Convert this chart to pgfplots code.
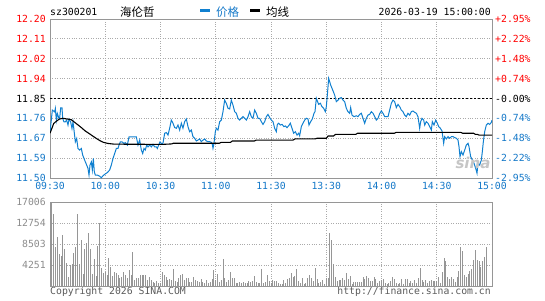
\documentclass[border=0pt]{standalone}
\usepackage{pgfplots}
\pgfplotsset{compat=1.18}
\usepackage{fontspec}
\setmainfont{DejaVu Sans}
\setmonofont{DejaVu Sans Mono}
\newfontfamily\cjk{Noto Sans CJK SC}
\definecolor{redlab}{RGB}{255,0,0}
\definecolor{bluelab}{RGB}{20,120,200}
\definecolor{priceblue}{RGB}{16,128,208}
\definecolor{gridc}{RGB}{170,170,170}
\definecolor{framec}{RGB}{150,150,150}
\definecolor{volc}{RGB}{150,150,150}
\definecolor{vollab}{RGB}{140,140,140}
\definecolor{copyc}{RGB}{90,90,90}
\newcommand\mono{\fontsize{9.8}{10}\selectfont\ttfamily}
\begin{document}
\begin{tikzpicture}
\useasboundingbox (0pt,0pt) rectangle (545pt,300pt);
% header
\node[anchor=west,inner sep=0pt] at (50pt,288pt) {\mono sz300201};
\node[anchor=west,inner sep=0pt] at (120pt,288pt) {\cjk\fontsize{11.5}{12}\selectfont 海伦哲};
\draw[priceblue,line width=3pt] (200pt,289.5pt) -- (209.5pt,289.5pt);
\node[anchor=west,inner sep=0pt,text=bluelab] at (216pt,288pt) {\cjk\fontsize{11.5}{12}\selectfont 价格};
\draw[black,line width=3pt] (250pt,289.5pt) -- (260pt,289.5pt);
\node[anchor=west,inner sep=0pt] at (266pt,288pt) {\cjk\fontsize{11.5}{12}\selectfont 均线};
\node[anchor=east,inner sep=0pt] at (491pt,288pt) {\mono 2026-03-19 15:00:00};
% right percentage labels
\node[anchor=west,inner sep=0pt,text=bluelab] at (495pt,122pt) {\mono -2.95\%};
\node[anchor=west,inner sep=0pt,text=bluelab] at (495pt,141.875pt) {\mono -2.22\%};
\node[anchor=west,inner sep=0pt,text=bluelab] at (495pt,161.75pt) {\mono -1.48\%};
\node[anchor=west,inner sep=0pt,text=bluelab] at (495pt,181.625pt) {\mono -0.74\%};
\node[anchor=west,inner sep=0pt,text=black] at (495pt,201.5pt) {\mono -0.00\%};
\node[anchor=west,inner sep=0pt,text=redlab] at (495pt,221.375pt) {\mono +0.74\%};
\node[anchor=west,inner sep=0pt,text=redlab] at (495pt,241.25pt) {\mono +1.48\%};
\node[anchor=west,inner sep=0pt,text=redlab] at (495pt,261.125pt) {\mono +2.22\%};
\node[anchor=west,inner sep=0pt,text=redlab] at (495pt,281pt) {\mono +2.95\%};
% footer
\node[anchor=west,inner sep=0pt,text=copyc] at (50pt,8pt) {\mono Copyright 2026 SINA.COM};
\node[anchor=east,inner sep=0pt,text=copyc] at (491pt,8pt) {\mono http://finance.sina.com.cn};

\begin{axis}[
  at={(50pt,122pt)}, anchor=south west, scale only axis,
  width=442pt, height=159pt,
  xmin=0, xmax=240, ymin=11.5, ymax=12.2,
  xtick={0,30,...,240},
  xticklabels={09:30,10:00,10:30,11:00,11:30,13:30,14:00,14:30,15:00},
  ytick={11.5,11.5875,11.675,11.7625,11.85,11.9375,12.025,12.1125,12.2},
  yticklabels={\textcolor{bluelab}{11.50},\textcolor{bluelab}{11.59},\textcolor{bluelab}{11.67},\textcolor{bluelab}{11.76},\textcolor{black}{11.85},\textcolor{redlab}{11.94},\textcolor{redlab}{12.02},\textcolor{redlab}{12.11},\textcolor{redlab}{12.20}},
  major tick length=0pt,
  grid=major, major grid style={gridc, dotted, line width=0.8pt},
  axis line style={framec, line width=0.9pt},
  tick label style={font=\mono},
  xticklabel style={text=bluelab, inner sep=0pt, anchor=north, yshift=-4pt},
  yticklabel style={inner sep=0pt, anchor=east, xshift=-4pt},
]
\addplot[black, dash pattern=on 2pt off 2pt, line width=0.9pt] coordinates {(0,11.85) (240,11.85)};
\addplot[priceblue, line width=1pt] coordinates {
(0,11.70) (1.27,11.799) (2.53,11.791) (2.9,11.806) (3.44,11.755) (3.98,11.784) (4.89,11.762) (5.25,11.762) (5.79,11.809) (6.52,11.809) (6.88,11.762) (7.6,11.747) (8.33,11.747) (9.05,11.755) (9.77,11.733) (10.32,11.759) (11.22,11.747) (11.94,11.718) (12.49,11.747) (13.03,11.711) (13.76,11.659) (14.48,11.674) (15.2,11.630) (16.11,11.623) (17.01,11.630) (17.74,11.601) (18.46,11.586) (19.19,11.571) (19.91,11.557) (20.63,11.542) (21.18,11.513) (21.72,11.557) (22.44,11.571) (22.99,11.535) (23.53,11.586) (24.07,11.527) (24.61,11.513) (25.7,11.513) (26.97,11.508) (27.87,11.501) (28.78,11.510) (29.68,11.516) (31.13,11.524) (32.4,11.535) (33.3,11.557) (34.21,11.586) (35.11,11.608) (36.02,11.630) (36.92,11.630) (37.46,11.645) (38.19,11.659) (39.09,11.659) (40.18,11.652) (40.9,11.656) (41.99,11.645) (42.89,11.681) (44.16,11.681) (45.61,11.681) (46.88,11.681) (47.78,11.645) (48.69,11.667) (49.59,11.623) (50.32,11.608) (51.04,11.630) (51.76,11.623) (52.49,11.645) (53.21,11.637) (54.12,11.645) (55.02,11.637) (55.93,11.648) (56.83,11.637) (57.73,11.637) (58.28,11.630) (59.0,11.645) (59.73,11.659) (60.45,11.652)
(61.35,11.653) (62.26,11.697) (63.16,11.700) (64.07,11.689) (64.97,11.719) (65.88,11.755) (66.78,11.741) (67.69,11.722) (68.6,11.719) (69.5,11.733) (70.4,11.711) (71.31,11.741) (72.2,11.719) (73.12,11.748) (74.02,11.760) (74.93,11.726) (75.83,11.704) (76.74,11.711) (77.64,11.682) (78.55,11.675) (79.45,11.663) (80.36,11.667) (81.26,11.672) (82.17,11.660) (83.07,11.667) (83.98,11.672) (84.88,11.663) (85.79,11.660) (86.69,11.660) (87.6,11.657) (88.14,11.648) (88.5,11.631) (89.05,11.653) (89.77,11.704) (90.31,11.719) (91.22,11.711) (92.12,11.748) (93.03,11.755) (93.93,11.792) (94.84,11.843) (95.74,11.829) (96.65,11.807) (97.55,11.804) (98.46,11.843) (99.36,11.821) (100.27,11.792) (101.17,11.785) (102.08,11.763) (102.98,11.755) (103.89,11.763) (104.79,11.770) (105.7,11.763) (106.6,11.755) (107.51,11.770) (108.41,11.792) (109.32,11.770) (110.22,11.763) (111.13,11.799) (112.03,11.785) (112.94,11.763) (113.84,11.763) (114.75,11.748) (115.65,11.736) (116.56,11.748) (117.46,11.770) (118.37,11.780)
(119.27,11.766) (120.18,11.755) (121.08,11.748) (121.99,11.719) (122.89,11.704) (123.44,11.736) (124.16,11.741) (125.07,11.733) (125.97,11.736) (127.06,11.726) (127.78,11.729) (128.69,11.722) (129.59,11.730) (130.5,11.741) (131.4,11.719) (132.3,11.697) (133.21,11.704) (134.12,11.689) (135.02,11.697) (135.56,11.686) (136.47,11.726) (137.37,11.741) (138.28,11.755) (139.18,11.763) (140.09,11.760) (140.63,11.733) (141.54,11.748) (142.44,11.760) (143.35,11.785) (143.89,11.792) (144.61,11.851) (145.16,11.839) (145.88,11.824) (146.79,11.829) (147.69,11.814) (148.6,11.807) (149.5,11.792) (150.04,11.814) (150.59,11.865) (151.31,11.939) (151.86,11.924) (152.4,11.909) (153.12,11.895) (153.85,11.880) (154.57,11.865) (155.47,11.836) (156.38,11.843) (157.28,11.851) (158.19,11.854) (159.09,11.843) (160.0,11.836) (160.9,11.807) (161.81,11.792) (162.71,11.785) (163.26,11.810) (163.98,11.777) (165.07,11.770) (166.33,11.774) (167.24,11.770) (168.14,11.780) (169.05,11.785) (169.95,11.763) (170.86,11.741) (171.76,11.763) (172.67,11.777) (173.57,11.780) (174.48,11.792) (175.38,11.785) (176.29,11.770) (177.19,11.755) (178.1,11.763) (179.0,11.783)
(179.91,11.795) (180.81,11.785) (181.72,11.770) (182.62,11.770) (183.53,11.770) (184.43,11.799) (185.34,11.829) (186.24,11.843) (187.15,11.836) (188.05,11.810) (188.96,11.824) (189.86,11.814) (190.77,11.799) (191.67,11.792) (192.58,11.777) (193.48,11.770) (194.39,11.785) (195.29,11.777) (196.2,11.792) (197.1,11.795) (198.01,11.789) (198.91,11.785) (199.82,11.770) (200.72,11.719) (201.27,11.748) (201.99,11.763) (202.9,11.755) (203.44,11.733) (204.34,11.748) (205.25,11.741) (206.15,11.726) (207.06,11.711) (207.6,11.748) (208.51,11.733) (209.41,11.755) (210.32,11.741) (211.04,11.726) (211.95,11.719) (212.85,11.707) (213.76,11.653) (214.3,11.682) (215.2,11.672) (216.11,11.682) (217.01,11.675) (217.92,11.682) (218.82,11.682) (219.73,11.678) (220.63,11.675) (221.54,11.667) (222.08,11.638) (222.62,11.594) (223.35,11.616) (224.25,11.601) (225.16,11.623) (226.06,11.645) (226.97,11.653) (227.51,11.638) (228.42,11.594) (229.32,11.579) (230.23,11.565) (231.13,11.543) (231.86,11.521) (232.4,11.565) (233.3,11.557) (234.21,11.579) (234.75,11.616) (235.3,11.660) (236.02,11.704) (236.92,11.733) (237.83,11.741) (238.73,11.736) (239.64,11.745) (240,11.755)
};
\addplot[black, line width=1.1pt] coordinates {
(0,11.697) (1,11.718) (2,11.740) (3.5,11.750) (5,11.759) (7,11.763) (9,11.760) (11.5,11.757) (13.4,11.745) (15,11.735) (17,11.722) (19,11.708) (21,11.697) (23,11.686) (25,11.675) (27,11.665) (29,11.657) (31.5,11.652) (35,11.649) (61,11.648) (66,11.650) (67,11.653) (92,11.653) (93,11.657) (98,11.657) (99,11.663) (111,11.663) (112,11.667) (132,11.667) (133,11.672) (144,11.672) (145,11.675) (150,11.675) (151,11.685) (154,11.685) (155,11.692) (166,11.692) (167,11.697) (187,11.697) (188,11.701) (223,11.701) (224,11.697) (230,11.697) (231,11.692) (232,11.692) (233,11.689) (240,11.689)
};
\end{axis}

\node[text=gray!45, font=\fontsize{15}{15}\selectfont\bfseries\itshape, inner sep=0pt] at (473pt,137pt) {sina};

\begin{axis}[
  at={(50pt,14pt)}, anchor=south west, scale only axis,
  width=442pt, height=84pt,
  xmin=0, xmax=240, ymin=0, ymax=17006,
  xtick={0,30,...,240}, xticklabel=\empty,
  ytick={4251.5,8503,12754.5,17006},
  yticklabels={4251,8503,12754,17006},
  major tick length=0pt,
  grid=major, major grid style={gridc, dotted, line width=0.8pt},
  axis line style={framec, line width=0.9pt},
  tick label style={font=\mono},
  yticklabel style={text=vollab, inner sep=0pt, anchor=east, xshift=-4pt},
  scaled y ticks=false,
]
\addplot[ycomb, volc, line width=1pt, mark=none] coordinates {
(0,4700) (1,17000) (2,14580) (3,7965) (4,9990) (5,6480) (6,6075) (7,10330) (8,7425) (9,4725) (10,1755) (11,4250) (12,4455) (13,6750) (14,7965) (15,14580) (16,4455) (17,9315) (18,2430) (19,7425) (20,8640) (21,10800) (22,7425) (23,2430) (24,5400) (25,2025) (26,8100) (27,12825) (28,3578) (29,2700) (30,2900) (31,2228) (32,5600) (33,3915) (34,2025) (35,2900) (36,2565) (37,2228) (38,1553) (39,1890) (40,2900) (41,2228) (42,1553) (43,3240) (44,2228) (45,6950) (46,1215) (47,1553) (48,1553) (49,2228) (50,2228) (51,2228) (52,2228) (53,1215) (54,1755) (55,1215) (56,878) (57,540) (58,1080) (59,675) (60,675) (61,2900) (62,2228) (63,1755) (64,1215) (65,1350) (66,1215) (67,3443) (68,1080) (69,878) (70,1553) (71,2228) (72,2430) (73,1215) (74,1688) (75,1553) (76,878) (77,878) (78,1755) (79,1215) (80,1080) (81,878) (82,1350) (83,878) (84,540) (85,1215) (86,540) (87,878) (88,1350) (89,3240) (90,1215) (91,2430) (92,878) (93,1215) (94,5400) (95,1553) (96,878) (97,1215) (98,2900) (99,1553) (100,1553) (101,675) (102,675) (103,878) (104,675) (105,878) (106,540) (107,675) (108,1080) (109,878) (110,1080) (111,2025) (112,878) (113,675) (114,540) (115,3375) (116,540) (117,878) (118,2228) (119,1100)
(120,680) (121,1156) (122,1020) (123,1020) (124,680) (125,340) (126,340) (127,1156) (128,680) (129,1360) (130,1564) (131,2720) (132,1836) (133,2040) (134,3400) (135,1020) (136,680) (137,1564) (138,340) (139,680) (140,1564) (141,2244) (142,1564) (143,1020) (144,3740) (145,1360) (146,680) (147,884) (148,1156) (149,340) (150,1564) (151,1564) (152,10676) (153,9316) (154,4420)
(155,1836) (156,1020) (157,1156) (158,1156) (159,1564) (160,1156) (161,2720) (162,1360) (163,2040) (164,340) (165,884) (166,884) (167,884) (168,884) (169,884) (170,1836) (171,1360) (172,2040) (173,1564) (174,1020) (175,1020) (176,1836) (177,1360) (178,680) (179,1020) (180,1156) (181,1360) (182,680) (183,340) (184,680) (185,1020) (186,1836) (187,1360) (188,680) (189,340) (190,680) (191,1360) (192,476) (193,1360) (194,1360) (195,680) (196,1020) (197,680) (198,1156) (199,680) (200,1564) (201,3604) (202,1156) (203,884) (204,1156) (205,680) (206,1020) (207,1156) (208,1020) (209,1020) (210,1020) (211,1836) (212,680) (213,2924) (214,5644) (215,4964) (216,1836) (217,1360) (218,1836) (219,1360) (220,884) (221,1836) (222,3060) (223,7956) (224,7140) (225,2244) (226,1836) (227,2516) (228,3060) (229,3400) (230,5236) (231,7276) (232,5236) (233,4964) (234,3876) (235,5100) (236,5916) (237,7820)
};
\end{axis}
\end{tikzpicture}
\end{document}
